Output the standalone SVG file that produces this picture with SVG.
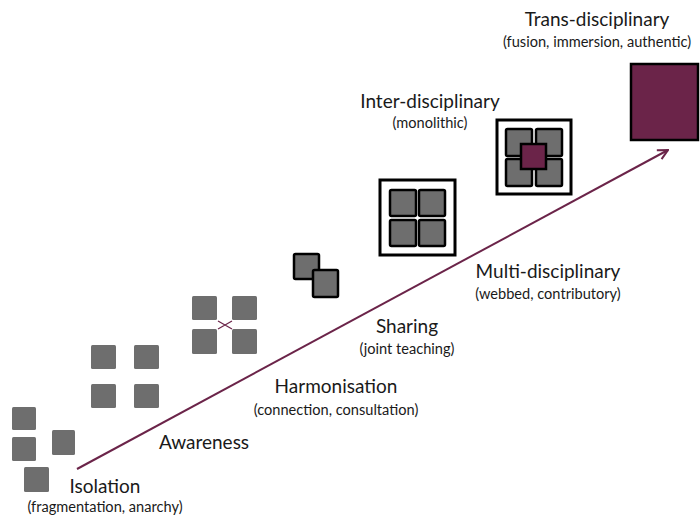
<svg xmlns="http://www.w3.org/2000/svg" width="700" height="517" viewBox="0 0 700 517">
  <defs>
    <style>
      .lbl { font-family: "Lato", "Liberation Sans", sans-serif; font-size: 19px; fill: #1a1a1a; text-anchor: middle; }
      .sub { font-family: "Lato", "Liberation Sans", sans-serif; font-size: 14.6px; fill: #1a1a1a; text-anchor: middle; }
      .sq { fill: #6e6e6e; }
      .bsq { fill: #6e6e6e; stroke: #000; stroke-width: 2.5; }
      .frame { fill: #fff; stroke: #000; stroke-width: 3; }
      .core { fill: #6b2449; stroke: #000; stroke-width: 2.5; }
      .arrow { stroke: #6b2449; stroke-width: 2; fill: none; }
    </style>
    <marker id="head" viewBox="0 0 12 12" refX="11" refY="6" markerWidth="12" markerHeight="12" markerUnits="userSpaceOnUse" orient="auto">
      <path d="M1,1 L11,6 L1,11" fill="none" stroke="#6b2449" stroke-width="2"/>
    </marker>
  </defs>
  <rect width="700" height="517" fill="#fff"/>

  <g id="connectors">
    <line class="arrow" x1="77" y1="469" x2="668" y2="150" marker-end="url(#head)"/>
  </g>

  <g id="isolation">
    <rect class="sq" x="12" y="407" width="24" height="23" rx="1.5"/>
    <rect class="sq" x="12" y="437" width="24" height="24" rx="1.5"/>
    <rect class="sq" x="52" y="430" width="23" height="25" rx="1.5"/>
    <rect class="sq" x="24" y="467" width="25" height="25" rx="1.5"/>
    <text class="lbl" x="105" y="493">Isolation</text>
    <text class="sub" x="105" y="512">(fragmentation, anarchy)</text>
  </g>

  <g id="awareness">
    <rect class="sq" x="91" y="345" width="25" height="24" rx="1.5"/>
    <rect class="sq" x="134" y="345" width="25" height="24" rx="1.5"/>
    <rect class="sq" x="91" y="384" width="25" height="24" rx="1.5"/>
    <rect class="sq" x="134" y="384" width="25" height="24" rx="1.5"/>
    <text class="lbl" x="204" y="449">Awareness</text>
  </g>

  <g id="harmonisation">
    <rect class="sq" x="192" y="296" width="25" height="24" rx="1.5"/>
    <rect class="sq" x="232" y="296" width="25" height="24" rx="1.5"/>
    <rect class="sq" x="192" y="329" width="25" height="25" rx="1.5"/>
    <rect class="sq" x="232" y="329" width="25" height="25" rx="1.5"/>
    <path d="M218,321 L232,329 M218,329 L232,321" stroke="#6b2449" stroke-width="1.2" fill="none"/>
    <text class="lbl" x="336" y="393">Harmonisation</text>
    <text class="sub" x="336" y="415">(connection, consultation)</text>
  </g>

  <g id="sharing">
    <rect class="bsq" x="294" y="254" width="25" height="25" rx="1.5"/>
    <rect class="bsq" x="313" y="270" width="25" height="27" rx="1.5"/>
    <text class="lbl" x="407" y="333">Sharing</text>
    <text class="sub" x="407" y="354">(joint teaching)</text>
  </g>

  <g id="multi-disciplinary">
    <rect class="frame" x="380" y="180" width="75" height="75"/>
    <rect class="bsq" x="390" y="190" width="26" height="26" rx="1.5"/>
    <rect class="bsq" x="419" y="190" width="26" height="26" rx="1.5"/>
    <rect class="bsq" x="390" y="220" width="26" height="26" rx="1.5"/>
    <rect class="bsq" x="419" y="220" width="26" height="26" rx="1.5"/>
    <text class="lbl" x="548" y="278">Multi-disciplinary</text>
    <text class="sub" x="548" y="299">(webbed, contributory)</text>
  </g>

  <g id="inter-disciplinary">
    <rect class="frame" x="497" y="120" width="74" height="74"/>
    <rect class="bsq" x="506" y="129" width="26" height="27" rx="1.5"/>
    <rect class="bsq" x="536" y="129" width="26" height="27" rx="1.5"/>
    <rect class="bsq" x="506" y="159" width="26" height="27" rx="1.5"/>
    <rect class="bsq" x="536" y="159" width="26" height="27" rx="1.5"/>
    <rect class="core" x="521" y="144" width="25" height="25"/>
    <text class="lbl" x="430" y="108">Inter-disciplinary</text>
    <text class="sub" x="430" y="128">(monolithic)</text>
  </g>

  <g id="trans-disciplinary">
    <rect class="core" x="631" y="64" width="67" height="76" stroke-width="3"/>
    <text class="lbl" x="597" y="26">Trans-disciplinary</text>
    <text class="sub" x="597" y="47">(fusion, immersion, authentic)</text>
  </g>
</svg>
